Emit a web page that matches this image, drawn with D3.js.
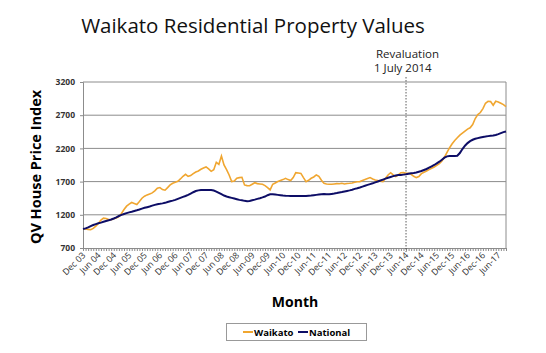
<!DOCTYPE html>
<html>
<head>
<meta charset="utf-8">
<script src="https://cdnjs.cloudflare.com/ajax/libs/d3/7.8.5/d3.min.js"></script>
<style>
  body { margin: 0; background: #fff; }
  text { font-family: "Open Sans", "Noto Sans", sans-serif; }
</style>
</head>
<body>
<div id="chart"></div>
<script>
// Monthly index values, Dec 2003 .. Sep 2017
const waikato = [
  985, 988, 980, 975, 995, 1030, 1070, 1120, 1150, 1145, 1130, 1125,
  1140, 1150, 1172, 1220, 1280, 1330, 1360, 1385, 1370, 1355, 1400, 1450,
  1480, 1500, 1515, 1530, 1560, 1600, 1610, 1580, 1570, 1610, 1650, 1675,
  1690, 1705, 1740, 1780, 1810, 1780, 1790, 1820, 1845, 1860, 1885, 1905,
  1920, 1890, 1855, 1880, 1990, 1960, 2085, 1950, 1880, 1800, 1700, 1710,
  1750, 1760, 1765, 1650, 1640, 1638, 1660, 1683, 1670, 1665, 1659, 1640,
  1610, 1575, 1660, 1680, 1700, 1715, 1730, 1750, 1730, 1715, 1760, 1834,
  1830, 1824, 1760, 1700, 1720, 1750, 1770, 1800, 1780, 1720, 1675, 1665,
  1660, 1660, 1665, 1670, 1668, 1674, 1665, 1672, 1674, 1680, 1690, 1698,
  1700, 1715, 1730, 1745, 1760, 1740, 1725, 1715, 1705, 1700, 1750, 1800,
  1834, 1800, 1775, 1800, 1834, 1835, 1825, 1824, 1810, 1780, 1760, 1775,
  1820, 1840, 1860, 1880, 1900, 1920, 1945, 1970, 2010, 2070, 2140, 2210,
  2270, 2320, 2360, 2400, 2430, 2460, 2490, 2510, 2560, 2650, 2710, 2740,
  2800, 2880, 2910, 2905, 2850, 2910, 2900, 2880, 2860, 2830
];
const national = [
  985, 995, 1010, 1030, 1046, 1060, 1072, 1082, 1095, 1107, 1118, 1130,
  1145, 1162, 1182, 1198, 1212, 1225, 1237, 1247, 1258, 1268, 1280, 1293,
  1305, 1315, 1325, 1338, 1350, 1360, 1365, 1372, 1380, 1392, 1403, 1413,
  1425, 1440, 1455, 1470, 1483, 1500, 1520, 1540, 1558, 1568, 1572, 1574,
  1575, 1573, 1572, 1565, 1550, 1530, 1510, 1490, 1475, 1465, 1455, 1445,
  1435, 1425, 1418, 1410, 1405, 1408, 1418, 1428, 1440, 1450, 1462, 1475,
  1495, 1508, 1510, 1505, 1500, 1495, 1490, 1487, 1485, 1483, 1482, 1482,
  1483, 1483, 1485, 1485, 1488, 1490, 1495, 1500, 1505, 1510, 1515, 1510,
  1510, 1515, 1520, 1527, 1535, 1543, 1552, 1560, 1568, 1578, 1590, 1600,
  1612, 1625, 1638, 1650, 1662, 1674, 1688, 1702, 1716, 1730, 1744, 1758,
  1770, 1782, 1792, 1798, 1800, 1805, 1810, 1818, 1825, 1830, 1838, 1849,
  1860, 1875, 1890, 1910, 1930, 1950, 1975, 2000, 2030, 2060, 2080, 2085,
  2085, 2085, 2090, 2130, 2190, 2240, 2280, 2310, 2330, 2345, 2355, 2365,
  2372, 2378, 2385, 2390, 2395, 2402, 2415, 2430, 2445, 2455
];
// Tick labels every six months, starting at month 0 (Dec 03)
const tickLabels = [
  "Dec 03", "Jun 04", "Dec 04", "Jun 05", "Dec 05", "Jun 06", "Dec 06",
  "Jun 07", "Dec 07", "Jun 08", "Dec 08", "Jun-09", "Dec-09", "Jun-10",
  "Dec-10", "Jun-11", "Dec-11", "Jun-12", "Dec-12", "Jun-13", "Dec-13",
  "Jun-14", "Dec-14", "Jun-15", "Dec-15", "Jun-16", "Dec-16", "Jun-17"
];
const yTicks = [700, 1200, 1700, 2200, 2700, 3200];
const revaluationMonth = 126;

const W = 546, H = 353;
const plot = { left: 83, right: 506, top: 82, bottom: 248 };

const svg = d3.select('#chart').append('svg')
  .attr('width', W).attr('height', H);

const x = d3.scaleLinear().domain([0, waikato.length - 1]).range([plot.left, plot.right]);
const y = d3.scaleLinear().domain([700, 3200]).range([plot.bottom, plot.top]);

// Title
svg.append('text')
  .attr('x', 253).attr('y', 33)
  .attr('text-anchor', 'middle')
  .attr('font-size', 20.5)
  .attr('fill', '#111')
  .text('Waikato Residential Property Values');

// Gridlines
svg.append('g')
  .selectAll('line')
  .data(yTicks.slice(1))
  .join('line')
  .attr('x1', plot.left).attr('x2', plot.right)
  .attr('y1', d => y(d)).attr('y2', d => y(d))
  .attr('stroke', '#8c8c8c').attr('stroke-width', 1);

// Right border
svg.append('line')
  .attr('x1', plot.right).attr('x2', plot.right)
  .attr('y1', plot.top).attr('y2', plot.bottom)
  .attr('stroke', '#8c8c8c');

// Y axis
const yAxis = svg.append('g')
  .attr('transform', `translate(${plot.left},0)`)
  .call(d3.axisLeft(y).tickValues(yTicks).tickSize(3).tickFormat(d3.format('d')));
yAxis.select('.domain').attr('stroke', '#8c8c8c');
yAxis.selectAll('.tick line').attr('stroke', '#8c8c8c');
yAxis.selectAll('text')
  .attr('font-family', 'Liberation Sans, Arial, sans-serif')
  .attr('font-size', 8.5).attr('font-weight', 'bold').attr('fill', '#333')
  .attr('x', -8);

// X axis: monthly minor ticks, labels every 6 months
const xAxis = svg.append('g')
  .attr('transform', `translate(0,${plot.bottom})`)
  .call(d3.axisBottom(x).tickValues(d3.range(0, waikato.length)).tickSize(3).tickFormat(''));
xAxis.select('.domain').attr('stroke', '#8c8c8c');
xAxis.selectAll('.tick line').attr('stroke', '#8c8c8c');

svg.append('g')
  .selectAll('text')
  .data(tickLabels)
  .join('text')
  .attr('transform', (d, i) => `translate(${x(i * 6) + 3},${plot.bottom + 8}) rotate(-45)`)
  .attr('text-anchor', 'end')
  .attr('font-family', 'Liberation Sans, Arial, sans-serif')
  .attr('font-size', 8.8)
  .attr('fill', '#333')
  .text(d => d);

// Revaluation marker
svg.append('line')
  .attr('x1', x(revaluationMonth)).attr('x2', x(revaluationMonth))
  .attr('y1', 77).attr('y2', 252)
  .attr('stroke', '#333').attr('stroke-width', 0.8)
  .attr('stroke-dasharray', '1.5,1.5');
svg.append('text')
  .attr('x', 376).attr('y', 58)
  .attr('font-size', 11.5).attr('fill', '#222')
  .text('Revaluation');
svg.append('text')
  .attr('x', 374).attr('y', 72)
  .attr('font-size', 11.5).attr('fill', '#222')
  .text('1 July 2014');

// Lines
const line = d3.line().x((d, i) => x(i)).y(d => y(d));
svg.append('path')
  .datum(waikato)
  .attr('fill', 'none')
  .attr('stroke', '#f0a630')
  .attr('stroke-width', 1.6)
  .attr('d', line);
svg.append('path')
  .datum(national)
  .attr('fill', 'none')
  .attr('stroke', '#0d0d66')
  .attr('stroke-width', 2)
  .attr('d', line);

// Axis titles
svg.append('text')
  .attr('transform', 'translate(41,167) rotate(-90)')
  .attr('text-anchor', 'middle')
  .attr('font-family', 'Liberation Sans, Arial, sans-serif')
  .attr('font-size', 14.5).attr('font-weight', 'bold')
  .text('QV House Price Index');
svg.append('text')
  .attr('x', 295).attr('y', 307)
  .attr('text-anchor', 'middle')
  .attr('font-family', 'Liberation Sans, Arial, sans-serif')
  .attr('font-size', 14).attr('font-weight', 'bold')
  .text('Month');

// Legend
const legend = svg.append('g');
legend.append('rect')
  .attr('x', 226.5).attr('y', 323.5).attr('width', 140).attr('height', 17)
  .attr('fill', '#fff').attr('stroke', '#999');
const items = [
  { name: 'Waikato', color: '#f0a630', x: 243 },
  { name: 'National', color: '#0d0d66', x: 298 }
];
items.forEach(it => {
  legend.append('line')
    .attr('x1', it.x).attr('x2', it.x + 10)
    .attr('y1', 332).attr('y2', 332)
    .attr('stroke', it.color).attr('stroke-width', 2);
  legend.append('text')
    .attr('x', it.x + 11).attr('y', 335.5)
    .attr('font-family', 'Liberation Sans, Arial, sans-serif')
    .attr('font-size', 9.5).attr('font-weight', 'bold')
    .text(it.name);
});
</script>
</body>
</html>
